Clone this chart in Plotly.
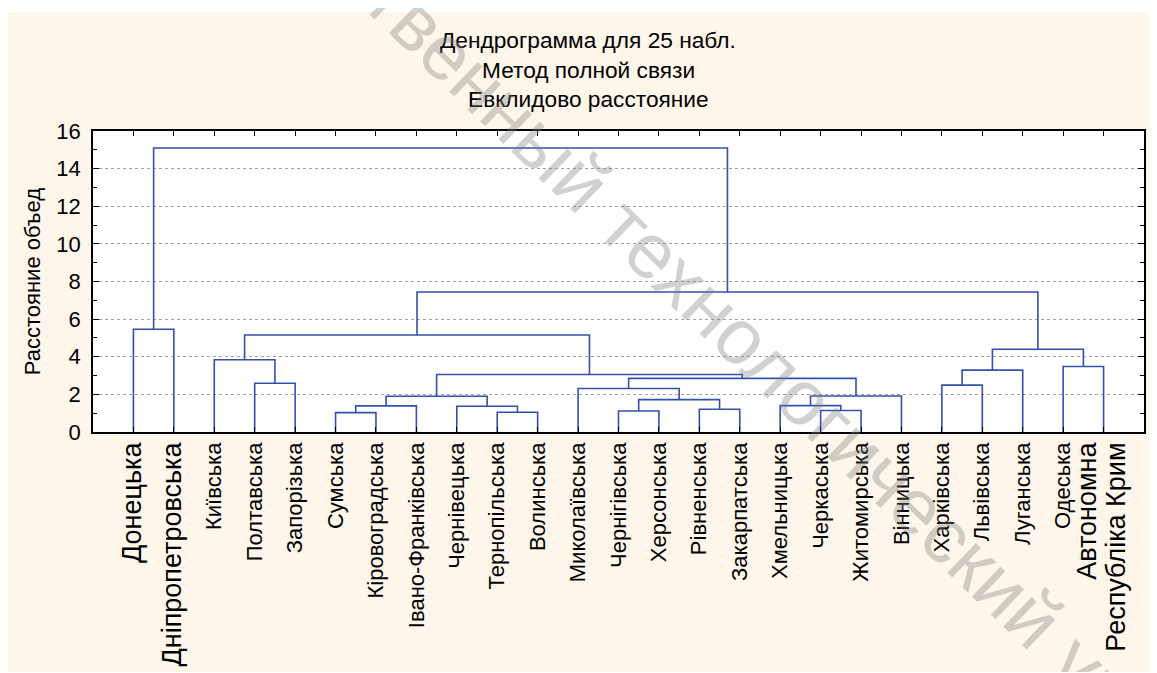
import plotly.graph_objects as go

# ---------------- data ----------------
leaf_names = [
    "Донецька", "Дніпропетровська", "Київська", "Полтавська", "Запорізька",
    "Сумська", "Кіровоградська", "Івано-Франківська", "Чернівецька", "Тернопільська",
    "Волинська", "Миколаївська", "Чернігівська", "Херсонська", "Рівненська",
    "Закарпатська", "Хмельницька", "Черкаська", "Житомирська", "Вінницька",
    "Харківська", "Львівська", "Луганська", "Одеська", "Автономна<br>Республіка Крим",
]
big_labels = ["Донецька", "Дніпропетровська", "Автономна<br>Республіка Крим"]

# merges (scipy-like): cluster ids 0..24 are leaves, 25+ are merges in order
merge_a = [5, 9, 12, 17, 14, 25, 8, 16, 27, 30, 32, 11, 20, 3, 36, 34, 37, 23, 2, 41, 43, 0, 45, 46]
merge_b = [6, 10, 13, 18, 15, 7, 26, 28, 29, 31, 19, 33, 21, 4, 35, 39, 22, 24, 38, 42, 40, 1, 44, 47]
merge_h = [1.03, 1.05, 1.12, 1.14, 1.21, 1.39, 1.37, 1.40, 1.72, 1.90, 1.91, 2.31,
           2.49, 2.59, 2.85, 3.06, 3.29, 3.48, 3.84, 4.40, 5.16, 5.46, 7.44, 15.10]

title_lines = ["Дендрограмма для 25 набл.", "Метод полной связи", "Евклидово расстояние"]
y_title = "Расстояние объед"
watermark = "государственный технологический университет"

# ---------------- build dendrogram segments ----------------
n = len(leaf_names)
pos_x = {i: i + 1 for i in range(n)}
pos_h = {i: 0.0 for i in range(n)}
xs, ys = [], []
for k, (a, b, h) in enumerate(zip(merge_a, merge_b, merge_h)):
    xa, xb = pos_x[a], pos_x[b]
    xs += [xa, xa, xb, xb, None]
    ys += [pos_h[a], h, h, pos_h[b], None]
    cid = n + k
    pos_x[cid] = (xa + xb) / 2
    pos_h[cid] = h

FONT = "Liberation Sans, Arial, sans-serif"
ticktext = []
for name in leaf_names:
    size = 27 if name in big_labels else 22
    parts = name.split("<br>")
    ticktext.append("<br>".join(f"<span style='font-size:{size}px'>{p}</span>" for p in parts))

fig = go.Figure()
fig.add_trace(go.Scatter(
    x=xs, y=ys, mode="lines",
    line=dict(color="#3450ae", width=1.6),
    hoverinfo="skip", showlegend=False,
))

# the page body has an 8px margin; lay the figure out in screen pixels
OFF = 8
W, H = 1148, 664
PL, PR, PT, PB = 93, 1144, 131, 432      # plot area in screen pixels
L, T = PL - OFF, PT - OFF
R = (OFF + W) - PR
B = (OFF + H) - PB
pw, ph = PR - PL, PB - PT

def px2paper(px, py):
    return (px - PL) / pw, (PB - py) / ph

shapes = []
x0, ytop = px2paper(0, 0)
x1, y12 = px2paper(1160, 12)
shapes.append(dict(type="rect", xref="paper", yref="paper", x0=x0, x1=x1, y0=y12, y1=ytop,
                   fillcolor="white", line=dict(width=0), layer="below"))
xr0, _ = px2paper(1152, 0)
xr1, _ = px2paper(1160, 0)
_, ybot = px2paper(0, 680)
shapes.append(dict(type="rect", xref="paper", yref="paper", x0=xr0, x1=xr1, y0=ybot, y1=ytop,
                   fillcolor="white", line=dict(width=0), layer="below"))

annotations = []
for line, cy in zip(title_lines, [40.5, 70, 98.8]):
    ax, ay = px2paper(588, cy)
    annotations.append(dict(text=line, x=ax, y=ay, xref="paper", yref="paper",
                            xanchor="center", yanchor="middle", showarrow=False,
                            font=dict(family=FONT, size=22.7, color="black")))
wx, wy = px2paper(768, 362)
annotations.append(dict(text=watermark, x=wx, y=wy, xref="paper", yref="paper",
                        xanchor="center", yanchor="middle", showarrow=False, textangle=44,
                        font=dict(family=FONT, size=78, color="rgba(128,128,128,0.36)")))

fig.update_layout(
    width=W, height=H, autosize=False,
    margin=dict(l=L, r=R, t=T, b=B, pad=0),
    paper_bgcolor="#fef6ea", plot_bgcolor="white",
    font=dict(family=FONT, color="black"),
    shapes=shapes, annotations=annotations,
    xaxis=dict(
        range=[0, 26], tickmode="array", tickvals=list(range(1, n + 1)), ticktext=ticktext,
        tickangle=-90, ticks="inside", ticklen=5, tickcolor="black", tickwidth=1,
        showline=True, linecolor="black", linewidth=1.5, mirror="ticks",
        showgrid=False, zeroline=False, tickfont=dict(size=22, color="black"),
        automargin=False,
    ),
    yaxis=dict(
        range=[0, 16], tick0=0, dtick=2, ticks="inside", ticklen=6, tickcolor="black",
        minor=dict(dtick=1, ticks="inside", ticklen=4, tickcolor="black", showgrid=False),
        showline=True, linecolor="black", linewidth=1.5, mirror="ticks",
        showgrid=True, gridcolor="#a0a0a0", griddash="dot", gridwidth=1, zeroline=False,
        tickfont=dict(size=22, color="black"), ticklabelstandoff=6,
        title=dict(text=y_title, font=dict(size=22, color="black"), standoff=10),
        automargin=False,
    ),
)

fig.write_html("out.html")
